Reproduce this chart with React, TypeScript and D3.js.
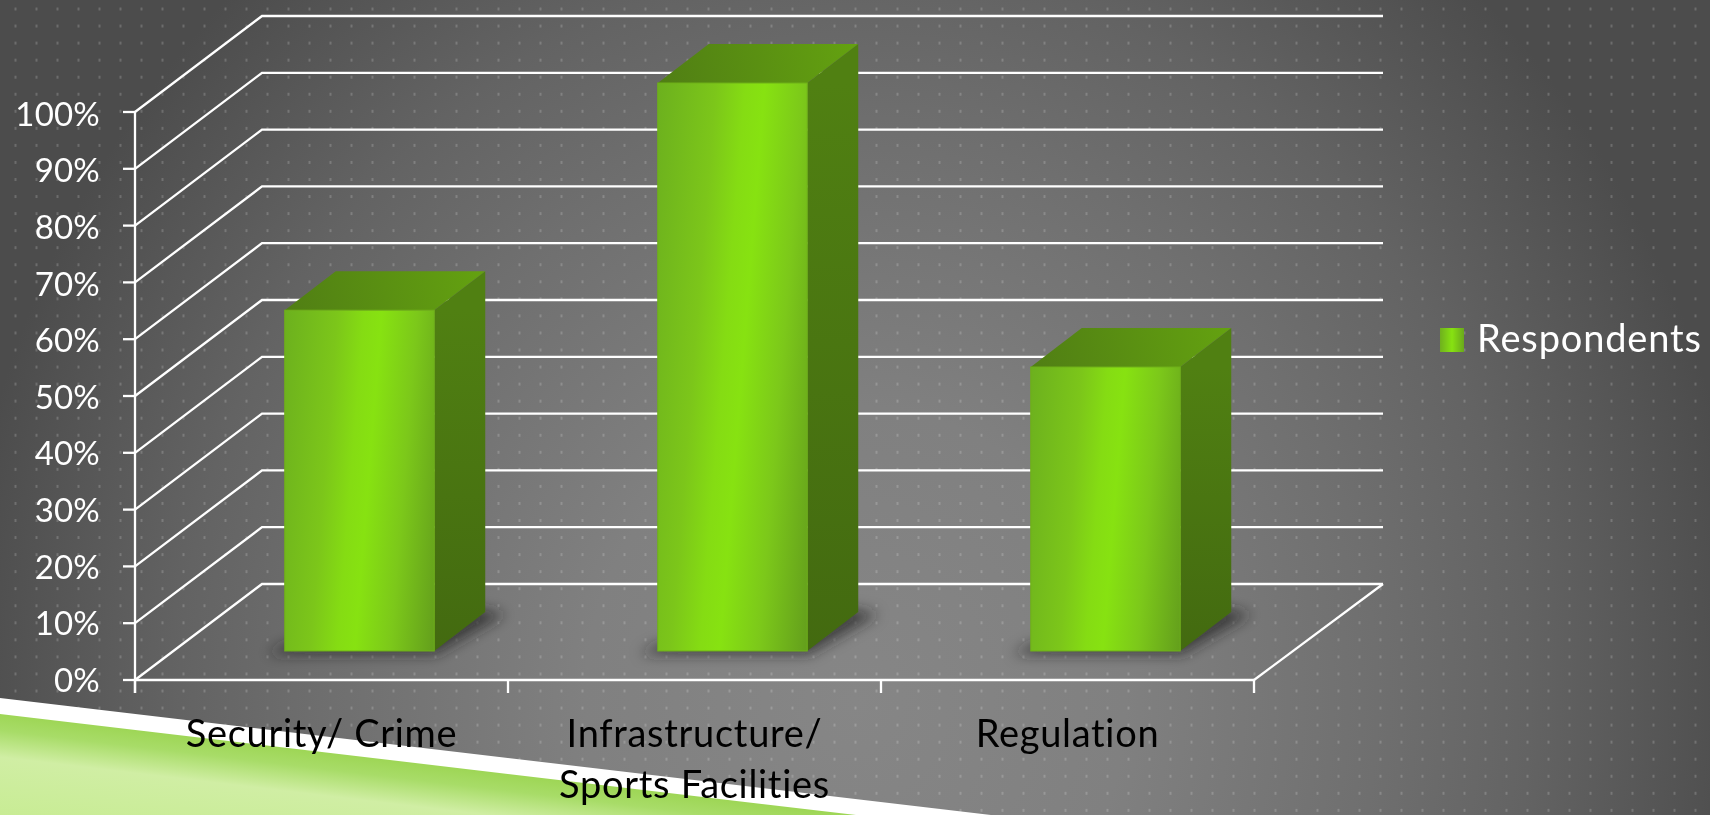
import React from 'react';
import * as d3 from 'd3';

const categories = ['Security/ Crime', 'Infrastructure/\nSports Facilities', 'Regulation'];
const respondents = [60, 100, 50];
const tickValues = [0, 10, 20, 30, 40, 50, 60, 70, 80, 90, 100];
const legendLabel = 'Respondents';

const W = 1710, H = 815;
const FONT = 'Lato, "Open Sans", sans-serif';
const x = d3.scaleBand<string>().domain(categories).range([135, 1254]);
const y = d3.scaleLinear().domain([0, 100]).range([680, 112]);
const yLabel = d3.scaleLinear().domain([0, 100]).range([692, 125.7]);
const WALL_DX = 127, WALL_DY = -96;
const BAR_W = 149.5, BAR_DX = 51, BAR_DY = -39;
const BAR_SHIFT_X = 38, BAR_SHIFT_Y = -29;
const xTicks = [...x.domain().map(c => x(c) as number), 1254];
const dotXs = d3.range(15.5, W, 21);
const dotYs = d3.range(9, H, 17.05);
const poly = (pts: number[][]) => d3.line()(pts as [number, number][]) + 'Z';

export default function App() {
  return (
    <svg width={W} height={H} viewBox={`0 0 ${W} ${H}`} style={{ position: 'fixed', left: 0, top: 0, display: 'block' }}>
      <defs>
        <radialGradient id="bg" gradientUnits="userSpaceOnUse" cx={0} cy={0} r={1}
          gradientTransform="translate(855 700) scale(900 980)">
          <stop offset="0" stopColor="#868686" />
          <stop offset="0.3" stopColor="#808080" />
          <stop offset="0.58" stopColor="#6f6f6f" />
          <stop offset="0.75" stopColor="#636363" />
          <stop offset="1" stopColor="#4c4c4c" />
        </radialGradient>
        <linearGradient id="leaf" gradientUnits="userSpaceOnUse" x1={0} y1={714} x2={-12} y2={815}>
          <stop offset="0" stopColor="#9ed656" />
          <stop offset="0.16" stopColor="#a8dc68" />
          <stop offset="0.42" stopColor="#d0eea4" />
          <stop offset="1" stopColor="#c8ec94" />
        </linearGradient>
        <linearGradient id="swatch" x1="0" y1="0" x2="1" y2="0">
          <stop offset="0" stopColor="#6fb01e" />
          <stop offset="0.5" stopColor="#87e211" />
          <stop offset="1" stopColor="#6aa81c" />
        </linearGradient>
        <filter id="blur" x="-30%" y="-100%" width="160%" height="300%">
          <feGaussianBlur stdDeviation="7" />
        </filter>
        {respondents.map((v, i) => {
          const x0 = (x(categories[i]) as number) + (x.bandwidth() - BAR_W) / 2 + BAR_SHIFT_X;
          const cx = x0 + BAR_W / 2;
          const top = y(v) + BAR_SHIFT_Y;
          const bot = y(0) + BAR_SHIFT_Y;
          const cy = (top + bot) / 2;
          const half = BAR_W / 2 + (bot - top) * 0.04;
          return (
            <React.Fragment key={i}>
              <linearGradient id={`front${i}`} gradientUnits="userSpaceOnUse"
                x1={cx - half} y1={cy - half * 0.08} x2={cx + half} y2={cy + half * 0.08}>
                <stop offset="0" stopColor="#6cb01e" />
                <stop offset="0.3" stopColor="#7cc61a" />
                <stop offset="0.45" stopColor="#85dc13" />
                <stop offset="0.55" stopColor="#87e211" />
                <stop offset="0.75" stopColor="#7cc81a" />
                <stop offset="1" stopColor="#639e1c" />
              </linearGradient>
              <linearGradient id={`top${i}`} gradientUnits="userSpaceOnUse"
                x1={x0} y1={top} x2={x0 + BAR_W + BAR_DX} y2={top + BAR_DY}>
                <stop offset="0" stopColor="#507e14" />
                <stop offset="1" stopColor="#64a210" />
              </linearGradient>
              <linearGradient id={`side${i}`} gradientUnits="userSpaceOnUse" x1={0} y1={top} x2={0} y2={bot}>
                <stop offset="0" stopColor="#508012" />
                <stop offset="1" stopColor="#436a10" />
              </linearGradient>
            </React.Fragment>
          );
        })}
      </defs>

      <rect width={W} height={H} fill="url(#bg)" />
      <g fill="#fff" fillOpacity={0.18}>
        {dotYs.flatMap(dy => dotXs.map(dx => <rect key={`${dx}-${dy}`} x={dx - 1} y={dy - 1.5} width={2} height={3} />))}
      </g>

      <path d={poly([[0, 698], [991, 815], [0, 815]])} fill="#fff" />
      <path d={poly([[0, 714], [856, 815], [0, 815]])} fill="url(#leaf)" />

      {/* walls and gridlines */}
      <g fill="none" stroke="#fff" strokeWidth={2.3}>
        {tickValues.map(t => (
          <path key={t} d={d3.line()([[x.range()[0], y(t)], [x.range()[0] + WALL_DX, y(t) + WALL_DY], [1383, y(t) + WALL_DY]]) as string} />
        ))}
        <path d={d3.line()([[1254, y(0)], [1383, y(0) + WALL_DY]]) as string} />
        <path d={`M135 ${y(100)}V693`} />
        <path d={`M135 ${y(0)}H1254`} />
        {tickValues.map(t => <path key={t} d={`M123 ${y(t)}H135`} />)}
        {xTicks.map(t => <path key={t} d={`M${t} ${y(0)}V693`} />)}
      </g>

      {/* bars */}
      {respondents.map((v, i) => {
        const x0 = (x(categories[i]) as number) + (x.bandwidth() - BAR_W) / 2 + BAR_SHIFT_X;
        const x1 = x0 + BAR_W;
        const top = y(v) + BAR_SHIFT_Y;
        const bot = y(0) + BAR_SHIFT_Y;
        return (
          <g key={i}>
            <path d={poly([[x0 - 18, bot + 3], [x1 + 2, bot + 3], [x1 + BAR_DX + 20, bot + BAR_DY + 2], [x1 + BAR_DX - 10, bot + BAR_DY - 4], [x0, bot - 6]])}
              fill="#222" fillOpacity={0.7} filter="url(#blur)" />
            <path d={poly([[x0, top], [x1, top], [x1 + BAR_DX, top + BAR_DY], [x0 + BAR_DX, top + BAR_DY]])} fill={`url(#top${i})`} />
            <path d={poly([[x1, top], [x1 + BAR_DX, top + BAR_DY], [x1 + BAR_DX, bot + BAR_DY], [x1, bot]])} fill={`url(#side${i})`} />
            <rect x={x0} y={top} width={BAR_W} height={bot - top} fill={`url(#front${i})`} stroke="#6fb018" strokeWidth={1} />
          </g>
        );
      })}

      {/* y labels */}
      <g fill="#fff" fontFamily={FONT} fontSize={33} letterSpacing={0.2} textAnchor="end">
        {tickValues.map(t => <text key={t} x={100} y={yLabel(t)}>{t}%</text>)}
      </g>

      {/* x labels */}
      <g fill="#000" fontFamily={FONT} fontSize={38} letterSpacing={0.7} textAnchor="middle">
        {categories.map(c => {
          const cx = (x(c) as number) + x.bandwidth() / 2;
          return c.split('\n').map((line, k) => (
            <text key={line} x={cx} y={747 + k * 51}>{line}</text>
          ));
        })}
      </g>

      {/* legend */}
      <rect x={1440} y={328} width={24} height={24} fill="url(#swatch)" />
      <text x={1477} y={352} fill="#fff" fontFamily={FONT} fontSize={38} letterSpacing={0.85}>{legendLabel}</text>
    </svg>
  );
}
